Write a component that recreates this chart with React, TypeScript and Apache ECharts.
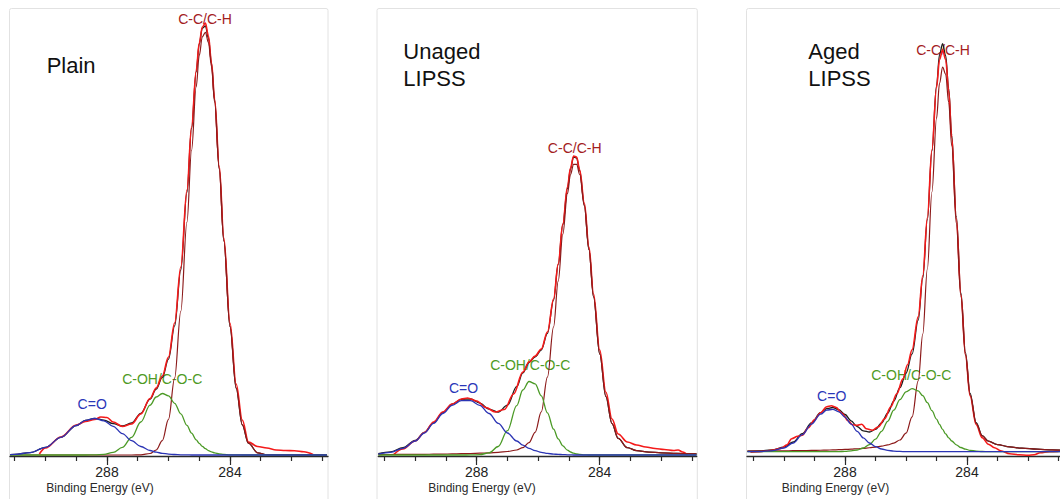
import React, { useEffect, useRef } from "react";
import * as echarts from "echarts";

// ---------- data (binding energy in eV, intensity in arbitrary units) ----------
const plainBE = [291.15, 291.0, 290.5, 290.0, 289.5, 289.0, 288.7, 288.4, 288.1, 287.8, 287.5, 287.2, 286.9, 286.6, 286.4, 286.2, 286.0, 285.8, 285.6, 285.4, 285.25, 285.1, 285.0, 284.9, 284.8, 284.7, 284.6, 284.5, 284.35, 284.2, 284.0, 283.8, 283.6, 283.4, 283.1, 282.8, 282.4, 282.0, 281.5, 281.0, 280.85];
const plainCO = [0.4, 0.6, 2.4, 7.6, 17.6, 29.5, 34.7, 36.5, 34.2, 28.7, 21.4, 14.3, 8.5, 4.5, 2.8, 1.7, 0.9, 0.5, 0.2, 0.1, 0, 0, 0, 0, 0, 0, 0, 0, 0, 0, 0, 0, 0, 0, 0, 0, 0, 0, 0, 0, 0];
const plainCOH = [0, 0, 0, 0, 0, 0, 0, 0.2, 0.7, 2.6, 7.6, 17.7, 33.0, 49.8, 58.0, 61.5, 59.2, 51.7, 41.1, 29.6, 21.8, 15.2, 11.6, 8.6, 6.3, 4.4, 3.1, 2.1, 1.1, 0.6, 0.2, 0.1, 0, 0, 0, 0, 0, 0, 0, 0, 0];
const plainCC = [0, 0, 0, 0, 0, 0, 0, 0, 0, 0, 0, 0, 0.2, 1.5, 5.0, 14.4, 35.7, 77.0, 143.7, 232.9, 304.7, 368.0, 399.4, 418.2, 422.7, 412.3, 388.2, 352.7, 285.8, 213.8, 128.3, 66.8, 30.2, 11.8, 2.2, 0.3, 0, 0, 0, 0, 0];
const plainFit = [0.4, 0.6, 2.4, 7.6, 17.6, 29.5, 34.7, 36.7, 34.9, 31.3, 29.0, 32.0, 41.7, 55.8, 65.8, 77.6, 95.8, 129.2, 185.0, 262.6, 326.5, 383.2, 411.0, 426.8, 429.0, 416.7, 391.3, 354.8, 286.9, 214.4, 128.5, 66.9, 30.2, 11.8, 2.2, 0.3, 0, 0, 0, 0, 0];
const plainRawBE = [290.2, 290.0, 289.5, 289.0, 288.7, 288.4, 288.2, 288.0, 287.8, 287.5, 287.2, 286.9, 286.6, 286.4, 286.2, 286.0, 285.8, 285.6, 285.4, 285.25, 285.1, 285.0, 284.9, 284.8, 284.7, 284.6, 284.5, 284.35, 284.2, 284.0, 283.8, 283.6, 283.4, 283.1, 282.8, 282.5, 282.2, 281.9, 281.6, 281.3];
const plainRaw = [1, 7, 18, 30, 33.5, 35.5, 38, 37.5, 33, 28.5, 31, 41, 56.5, 67, 79, 98, 132, 188, 265, 328, 384, 412, 428, 432, 419, 392, 356, 289, 217, 132, 71, 35, 13, 8.5, 7, 5, 4.5, 4.3, 3.3, 0.5];

const unagedBE = [291.2, 290.8, 290.4, 290.0, 289.7, 289.4, 289.1, 288.8, 288.5, 288.2, 287.9, 287.6, 287.3, 287.0, 286.7, 286.5, 286.3, 286.1, 285.9, 285.7, 285.5, 285.35, 285.2, 285.05, 284.95, 284.85, 284.75, 284.65, 284.5, 284.35, 284.2, 284.0, 283.8, 283.6, 283.4, 283.1, 282.8, 282.4, 282.0, 281.5, 280.85];
const unagedCO = [0.9, 2.7, 6.7, 14.0, 22.0, 31.6, 41.5, 49.7, 54.4, 54.4, 49.7, 41.5, 31.6, 22.0, 14.0, 9.9, 6.7, 4.3, 2.7, 1.6, 0.9, 0.6, 0.4, 0.2, 0.1, 0, 0, 0, 0, 0, 0, 0, 0, 0, 0, 0, 0, 0, 0, 0, 0];
const unagedCOH = [0, 0, 0, 0, 0, 0, 0, 0, 0, 0.05, 0.4, 2.1, 8.5, 24.3, 49.3, 65.0, 73.5, 71.2, 59.2, 42.2, 25.8, 16.1, 9.2, 4.8, 3.0, 1.8, 1.0, 0.6, 0.2, 0, 0, 0, 0, 0, 0, 0, 0, 0, 0, 0, 0];
const unagedCC = [0.4, 0.5, 0.6, 0.65, 0.7, 0.8, 0.95, 1.1, 1.3, 1.5, 1.8, 2.2, 2.7, 3.5, 5.0, 7.3, 12.3, 22.7, 43.1, 77.8, 128.2, 173.8, 220.8, 261.3, 280.5, 290.7, 290.7, 280.5, 249.1, 205.3, 158.2, 101.1, 58.5, 31.4, 16.6, 7.3, 4.4, 2.9, 2.2, 1.6, 1.1];
const unagedFit = [1.3, 3.2, 7.3, 14.7, 22.7, 32.4, 42.5, 50.8, 55.7, 56.0, 51.9, 45.8, 42.8, 49.8, 68.3, 82.2, 92.5, 98.2, 105.0, 121.6, 154.9, 190.5, 230.4, 266.3, 286, 298, 297, 284, 250, 205.3, 158.2, 101.1, 58.5, 31.4, 16.6, 7.3, 4.4, 2.9, 2.2, 1.6, 1.1];
const unagedRawBE = [290.7, 290.4, 290.0, 289.7, 289.4, 289.1, 288.8, 288.5, 288.3, 288.0, 287.7, 287.4, 287.1, 286.8, 286.5, 286.3, 286.1, 285.9, 285.7, 285.5, 285.35, 285.2, 285.05, 284.95, 284.85, 284.75, 284.65, 284.5, 284.35, 284.2, 284.0, 283.8, 283.6, 283.4, 283.1, 282.8, 282.5, 282.2, 281.9, 281.6, 281.45, 281.3, 281.15];
const unagedRaw = [0.5, 6, 14, 22.5, 33, 43, 51, 56, 57, 54, 47.5, 43, 45.5, 61, 83, 93, 99, 106, 123, 156, 191, 231, 268, 287, 299, 298, 285, 252, 208, 161, 105, 63, 36, 21, 13, 10, 8, 6.5, 5.5, 4.5, 5, 3, 0];

const agedBE = [291.2, 290.8, 290.4, 290.0, 289.7, 289.4, 289.1, 288.8, 288.6, 288.4, 288.2, 288.0, 287.8, 287.6, 287.4, 287.2, 287.0, 286.8, 286.6, 286.4, 286.2, 286.0, 285.8, 285.6, 285.45, 285.3, 285.15, 285.0, 284.9, 284.8, 284.7, 284.6, 284.5, 284.35, 284.2, 284.05, 283.9, 283.7, 283.5, 283.3, 283.0, 282.6, 282.2, 281.7, 281.2, 280.95];
const agedCO = [0, 0.15, 0.9, 3.7, 8.7, 17.0, 27.6, 37.5, 41.5, 42.4, 39.9, 34.6, 27.6, 20.4, 13.8, 8.7, 5.0, 2.7, 1.3, 0.6, 0.25, 0.1, 0, 0, 0, 0, 0, 0, 0, 0, 0, 0, 0, 0, 0, 0, 0, 0, 0, 0, 0, 0, 0, 0, 0, 0];
const agedCOH = [0, 0, 0, 0, 0, 0, 0, 0, 0, 0.04, 0.1, 0.3, 0.76, 1.7, 3.7, 7.1, 12.6, 20.4, 30.4, 41.5, 52.0, 59.8, 63.0, 60.8, 56.0, 49.1, 41.0, 32.6, 27.2, 22.3, 17.8, 13.9, 10.7, 6.9, 4.2, 2.5, 1.4, 0.6, 0.2, 0, 0, 0, 0, 0, 0, 0];
const agedCC = [0.6, 0.66, 0.76, 0.87, 0.98, 1.1, 1.27, 1.47, 1.62, 1.8, 2.0, 2.26, 2.57, 2.93, 3.38, 3.94, 4.65, 5.55, 6.8, 8.6, 11.7, 18.5, 34.8, 70.8, 117.6, 182.7, 259.7, 333.1, 368.5, 384.6, 377.5, 349.2, 305.6, 228.3, 154.7, 96.6, 57.2, 28.4, 15.8, 10.5, 7.1, 4.8, 3.5, 2.5, 1.84, 1.6];
const agedFit = [0.6, 0.8, 1.7, 4.6, 9.7, 18.1, 28.9, 39.0, 43.1, 44.2, 42.0, 37.2, 30.9, 25.0, 20.9, 19.7, 22.3, 28.7, 38.5, 50.7, 64.0, 78.4, 97.8, 131.6, 173.6, 231.8, 300.7, 365.7, 397, 408, 396, 363.1, 316.3, 235.2, 158.9, 99.1, 58.6, 29.0, 16.0, 10.5, 7.1, 4.8, 3.5, 2.5, 1.8, 1.6];
const agedRawBE = [291.1, 290.8, 290.4, 290.1, 289.9, 289.75, 289.55, 289.4, 289.2, 289.0, 288.8, 288.6, 288.45, 288.3, 288.1, 287.9, 287.75, 287.6, 287.45, 287.3, 287.1, 286.9, 286.7, 286.5, 286.3, 286.1, 285.95, 285.8, 285.6, 285.45, 285.3, 285.15, 285.0, 284.9, 284.8, 284.7, 284.6, 284.5, 284.35, 284.2, 284.05, 283.9, 283.7, 283.5, 283.3, 283.1, 282.9, 282.6, 282.3, 282.0, 281.8, 281.6, 281.3, 281.0];
const agedRaw = [-0.5, 0, 1.5, 3.3, 7, 13, 15.5, 16.5, 24, 32, 39, 45, 46, 44.5, 38.5, 31, 27, 26.5, 27.5, 23, 21.5, 25, 33, 45, 58, 73, 87, 102, 135, 176, 234, 302, 364, 392, 402, 392, 361, 314, 233, 157, 97, 56, 27, 14, 7.5, 4, 1, -2, -3, -3.5, -3, -1, 0, 0.3];

const tickValues = [281, 282, 283, 284, 285, 286, 287, 288, 289, 290, 291];
const labelValues = [284, 288];
const panelTitles = ["Plain", "Unaged\nLIPSS", "Aged\nLIPSS"];
const peakNames = ["C-C/C-H", "C-OH/C-O-C", "C=O"];
const axisTitle = "Binding Energy (eV)";

// ---------- layout / style ----------
const FONT = "'Liberation Sans', Arial, Helvetica, sans-serif";
const C_RAW = "#f41a1a";
const C_FIT = "#1c1c1c";
const C_CC = "#8c1a1a";
const C_COH = "#4b9a26";
const C_CO = "#2b34b4";
const L_CC = "#a3201e";
const L_COH = "#4e9a24";
const L_CO = "#2a36b8";

const dataSets = [
  { be: plainBE, co: plainCO, coh: plainCOH, cc: plainCC, fit: plainFit, rawBE: plainRawBE, raw: plainRaw },
  { be: unagedBE, co: unagedCO, coh: unagedCOH, cc: unagedCC, fit: unagedFit, rawBE: unagedRawBE, raw: unagedRaw },
  { be: agedBE, co: agedCO, coh: agedCOH, cc: agedCC, fit: agedFit, rawBE: agedRawBE, raw: agedRaw },
];

const layout = [
  { left: 10, width: 318, xMin: 280.813, xMax: 291.154, yMin: -1, yMax: 439,
    frame: [9.5, 8.5, 318.5], title: [46.7, 65.3], axisTitleX: 100,
    peaks: [[205, 19], [162.2, 379], [92.2, 404.3]] },
  { left: 378.3, width: 318.4, xMin: 280.846, xMax: 291.2, yMin: -1, yMax: 439,
    frame: [377, 8.5, 320.3], title: [403.3, 64.7], axisTitleX: 482,
    peaks: [[574.7, 147.7], [530.2, 365.3], [463.5, 387.5]] },
  { left: 747, width: 313, xMin: 280.951, xMax: 291.213, yMin: -4.3, yMax: 435.7,
    frame: [746.5, 8.5, 400], title: [808.3, 64.7], axisTitleX: 835.5,
    peaks: [[943, 50], [911.3, 374.7], [831.7, 395.8]] },
];

function pairs(xs: number[], ys: number[]) {
  return xs.map((x, i) => [x, ys[i]]);
}

function lineSeries(data: number[][], color: string, width: number, axis: number, yIdx: number) {
  return {
    type: "line",
    data,
    xAxisIndex: axis,
    yAxisIndex: yIdx,
    showSymbol: false,
    symbol: "none",
    smooth: 0.35,
    smoothMonotone: "x",
    silent: true,
    clip: true,
    lineStyle: { color, width },
    itemStyle: { color },
  };
}

function buildOption() {
  const grid: any[] = [];
  const xAxis: any[] = [];
  const yAxis: any[] = [];
  const series: any[] = [];
  const graphic: any[] = [];
  const axisColor = "#2a2a2a";

  layout.forEach((L, i) => {
    grid.push({ left: L.left, width: L.width, top: 16, bottom: 43 });
    xAxis.push({
      type: "value", gridIndex: i, min: L.xMin, max: L.xMax, inverse: true, position: "bottom",
      axisLine: { show: true, onZero: false, lineStyle: { color: axisColor, width: 1.3 } },
      axisTick: { show: true, customValues: tickValues, length: 5, lineStyle: { color: axisColor, width: 1.2 } },
      axisLabel: { show: false },
      splitLine: { show: false },
    });
    xAxis.push({
      type: "value", gridIndex: i, min: L.xMin, max: L.xMax, inverse: true, position: "bottom", offset: 0,
      axisLine: { show: false, onZero: false },
      axisTick: { show: true, customValues: labelValues, length: 9, lineStyle: { color: axisColor, width: 1.2 } },
      axisLabel: { show: true, customValues: labelValues, margin: 9, fontSize: 14, color: "#222", fontFamily: FONT },
      splitLine: { show: false },
    });
    yAxis.push({ type: "value", gridIndex: i, min: L.yMin, max: L.yMax, show: false });

    const D = dataSets[i];
    const xa = i * 2;
    series.push(lineSeries(pairs(D.be, D.fit), C_FIT, 1.3, xa, i));
    series.push(lineSeries(pairs(D.rawBE, D.raw), C_RAW, 1.6, xa, i));
    series.push(lineSeries(pairs(D.be, D.cc), C_CC, 1.2, xa, i));
    series.push(lineSeries(pairs(D.be, D.coh), C_COH, 1.3, xa, i));
    series.push(lineSeries(pairs(D.be, D.co), C_CO, 1.3, xa, i));

    graphic.push({
      type: "rect", silent: true, z: -10,
      shape: { x: L.frame[0], y: L.frame[1], width: L.frame[2], height: 600, r: 2 },
      style: { fill: "none", stroke: "#e2e2e2", lineWidth: 1 },
    });
    graphic.push({
      type: "text", silent: true,
      style: { text: panelTitles[i], x: L.title[0], y: L.title[1], fill: "#111", fontSize: 22, fontFamily: FONT,
        lineHeight: 27, textAlign: "left", textVerticalAlign: "middle", align: "left", verticalAlign: "middle" },
    });
    const pc = [L_CC, L_COH, L_CO];
    L.peaks.forEach((p, k) => {
      graphic.push({
        type: "text", silent: true,
        style: { text: peakNames[k], x: p[0], y: p[1], fill: pc[k], fontSize: 14, fontFamily: FONT,
          textAlign: "center", textVerticalAlign: "middle", align: "center", verticalAlign: "middle" },
      });
    });
    graphic.push({
      type: "text", silent: true,
      style: { text: axisTitle, x: L.axisTitleX, y: 488.2, fill: "#2a2a2a", fontSize: 12, fontFamily: FONT,
        textAlign: "center", textVerticalAlign: "middle", align: "center", verticalAlign: "middle" },
    });
  });

  return { animation: false, backgroundColor: "#ffffff", grid, xAxis, yAxis, series, graphic };
}

export default function App() {
  const ref = useRef<HTMLDivElement>(null);
  useEffect(() => {
    if (!ref.current) return;
    const chart = echarts.init(ref.current, undefined, { renderer: "svg" });
    chart.setOption(buildOption() as any);
    return () => chart.dispose();
  }, []);
  return (
    <div
      ref={ref}
      style={{ position: "fixed", left: 0, top: 0, width: 1060, height: 499, background: "#fff" }}
    />
  );
}
